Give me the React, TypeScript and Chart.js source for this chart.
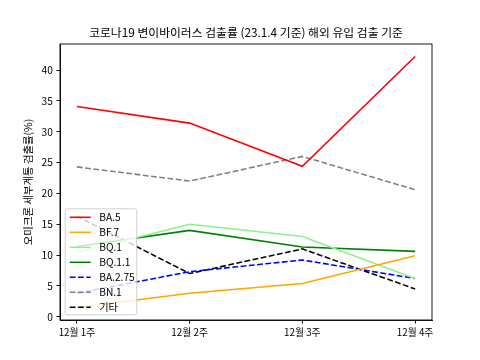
import React, { useEffect, useRef } from "react";
import { Chart, registerables } from "chart.js";

Chart.register(...registerables);

const TITLE = "코로나19 변이바이러스 검출률 (23.1.4 기준) 해외 유입 검출 기준";
const Y_LABEL = "오미크론 세부계통 검출률(%)";
const weeks = ["12월 1주", "12월 2주", "12월 3주", "12월 4주"];
const yTicks = [0, 5, 10, 15, 20, 25, 30, 35, 40];

const ba5 = [34.1, 31.4, 24.4, 42.2];
const bf7 = [1.5, 3.8, 5.4, 9.9];
const bq1 = [10.4, 15.0, 13.0, 6.2];
const bq11 = [11.4, 14.0, 11.3, 10.6];
const ba275 = [3.8, 7.3, 9.2, 6.2];
const bn1 = [24.3, 22.0, 26.0, 20.6];
const etc = [16.3, 7.0, 11.0, 4.5];

const FONT = "'Noto Sans CJK KR', 'Noto Sans', sans-serif";
const DASH = [5.8, 2.5];

const seriesDefs = [
  { label: "BA.5", data: ba5, color: "#ff0000", dash: [] as number[] },
  { label: "BF.7", data: bf7, color: "#ffa500", dash: [] as number[] },
  { label: "BQ.1", data: bq1, color: "#90ee90", dash: [] as number[] },
  { label: "BQ.1.1", data: bq11, color: "#008000", dash: [] as number[] },
  { label: "BA.2.75", data: ba275, color: "#0000ff", dash: DASH },
  { label: "BN.1", data: bn1, color: "#808080", dash: DASH },
  { label: "기타", data: etc, color: "#000000", dash: DASH },
];

export default function App() {
  const ref = useRef<HTMLCanvasElement | null>(null);

  useEffect(() => {
    const canvas = ref.current;
    if (!canvas) return;
    const all = seriesDefs.flatMap((s) => s.data);
    const dmin = Math.min(...all);
    const dmax = Math.max(...all);
    const pad = (dmax - dmin) * 0.05;

    const framePlugin = {
      id: "frame",
      afterDatasetsDraw(chart: any) {
        const { ctx, chartArea: a } = chart;
        ctx.save();
        ctx.strokeStyle = "#000";
        ctx.lineWidth = 0.9;
        ctx.strokeRect(a.left, a.top, a.right - a.left, a.bottom - a.top);
        ctx.restore();
      },
      afterDraw(chart: any) {
        const { ctx, chartArea: a } = chart;
        ctx.save();
        // title
        ctx.fillStyle = "#000";
        ctx.font = `11.8px ${FONT}`;
        ctx.textAlign = "center";
        ctx.textBaseline = "middle";
        ctx.fillText(TITLE, (a.left + a.right) / 2, 33);
        // legend
        const fs = 10.2;
        const x0 = a.left + 5.2;
        const rowH = 15;
        const n = chart.data.datasets.length;
        const w = 71.5;
        const h = n * rowH + 1;
        const y1 = a.bottom - 5.2;
        const y0 = y1 - h;
        const r = 2;
        ctx.beginPath();
        ctx.moveTo(x0 + r, y0);
        ctx.lineTo(x0 + w - r, y0);
        ctx.quadraticCurveTo(x0 + w, y0, x0 + w, y0 + r);
        ctx.lineTo(x0 + w, y1 - r);
        ctx.quadraticCurveTo(x0 + w, y1, x0 + w - r, y1);
        ctx.lineTo(x0 + r, y1);
        ctx.quadraticCurveTo(x0, y1, x0, y1 - r);
        ctx.lineTo(x0, y0 + r);
        ctx.quadraticCurveTo(x0, y0, x0 + r, y0);
        ctx.closePath();
        ctx.fillStyle = "rgba(255,255,255,0.8)";
        ctx.fill();
        ctx.strokeStyle = "#cccccc";
        ctx.lineWidth = 0.9;
        ctx.stroke();
        ctx.font = `${fs}px ${FONT}`;
        ctx.textAlign = "left";
        ctx.textBaseline = "middle";
        chart.data.datasets.forEach((ds: any, i: number) => {
          const cy = y0 + 8.5 + i * rowH;
          ctx.beginPath();
          ctx.setLineDash(ds.borderDash || []);
          ctx.strokeStyle = ds.borderColor;
          ctx.lineWidth = 1.56;
          ctx.moveTo(x0 + 4.5, cy);
          ctx.lineTo(x0 + 25.5, cy);
          ctx.stroke();
          ctx.setLineDash([]);
          ctx.fillStyle = "#000";
          ctx.fillText(ds.label, x0 + 34, cy);
        });
        ctx.restore();
      },
    };

    const chart = new Chart(canvas, {
      type: "line",
      data: {
        datasets: seriesDefs.map((s) => ({
          label: s.label,
          data: s.data.map((v, i) => ({ x: i, y: v })),
          borderColor: s.color,
          backgroundColor: s.color,
          borderDash: s.dash,
          borderWidth: 1.56,
          pointRadius: 0,
          pointHoverRadius: 0,
          tension: 0,
          fill: false,
        })),
      },
      options: {
        animation: false,
        responsive: false,
        maintainAspectRatio: false,
        devicePixelRatio: 1,
        events: [],
        layout: { padding: { left: 0, top: 44, right: 48, bottom: 0 } },
        plugins: {
          legend: { display: false },
          title: { display: false },
          tooltip: { enabled: false },
        },
        scales: {
          x: {
            type: "linear",
            min: -0.15,
            max: weeks.length - 1 + 0.15,
            afterBuildTicks: (scale: any) => {
              scale.ticks = weeks.map((_, i) => ({ value: i }));
            },
            afterFit: (scale: any) => {
              scale.height = 40;
            },
            grid: {
              display: true,
              drawOnChartArea: false,
              drawTicks: true,
              tickLength: 3.6,
              tickWidth: 0.9,
              tickColor: "#000",
            },
            border: { display: true, color: "#000", width: 0.9 },
            ticks: {
              padding: 3,
              autoSkip: false,
              maxRotation: 0,
              color: "#000",
              font: { family: FONT, size: 9.8 },
              callback: (v: any) => weeks[Math.round(Number(v))] ?? "",
            },
          },
          y: {
            type: "linear",
            min: dmin - pad,
            max: dmax + pad,
            afterBuildTicks: (scale: any) => {
              scale.ticks = yTicks.map((v) => ({ value: v }));
            },
            afterFit: (scale: any) => {
              scale.width = 60;
            },
            grid: {
              display: true,
              drawOnChartArea: false,
              drawTicks: true,
              tickLength: 3.6,
              tickWidth: 0.9,
              tickColor: "#000",
            },
            border: { display: true, color: "#000", width: 0.9 },
            ticks: {
              padding: 3.6,
              color: "#000",
              font: { family: FONT, size: 10.2 },
              callback: (v: any) => String(v),
            },
            title: {
              display: true,
              text: Y_LABEL,
              color: "#000",
              font: { family: FONT, size: 10.4, lineHeight: 1 },
              padding: { top: 23, bottom: 0 },
            },
          },
        },
      },
      plugins: [framePlugin],
    });
    return () => chart.destroy();
  }, []);

  return (
    <div style={{ position: "fixed", left: 0, top: 0, width: 480, height: 360, background: "#fff" }}>
      <canvas ref={ref} width={480} height={360} style={{ width: 480, height: 360, display: "block" }} />
    </div>
  );
}
